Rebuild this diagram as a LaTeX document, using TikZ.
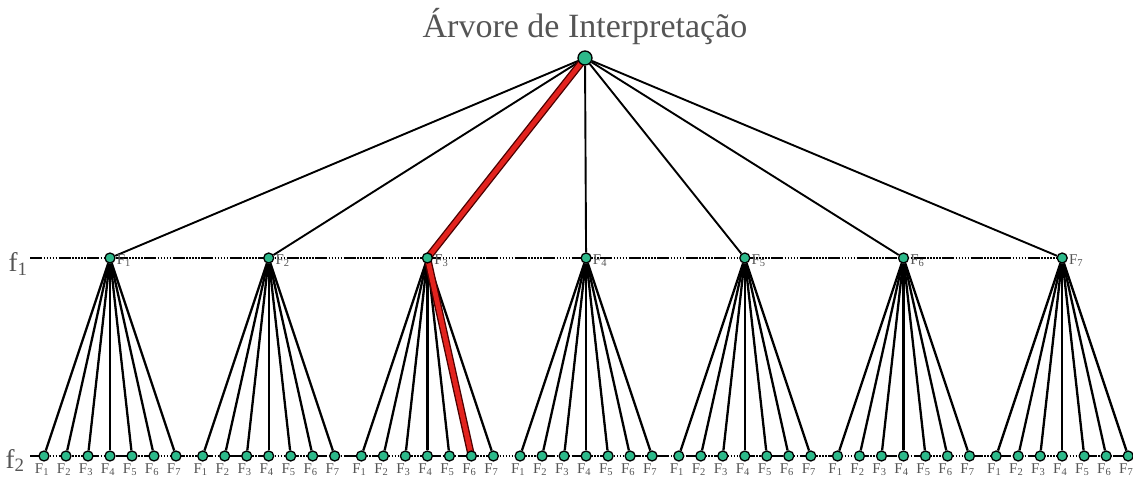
\documentclass[tikz,border=0pt]{standalone}
\usepackage{fontspec}
\setmainfont{Liberation Serif}
\usepackage{xcolor}
\usetikzlibrary{positioning,backgrounds}
\definecolor{nodec}{HTML}{2DB98A}
\definecolor{labc}{HTML}{555555}
\definecolor{pathc}{HTML}{E3231E}
\newcommand{\Fl}[1]{F\textsubscript{#1}}

\begin{document}
\begin{tikzpicture}[x=1pt, y=-1pt,
    dot/.style={circle, draw=black, fill=nodec, line width=1.3pt, inner sep=0pt, minimum size=10pt},
    edge/.style={black, line width=1.9pt},
    levelline/.style={black, line width=1.8pt, dash pattern=on 12pt off 1.5pt on 1.5pt off 1.5pt on 1.5pt off 1.5pt on 1.5pt off 1.5pt on 1.5pt off 1.5pt on 1.5pt off 1.5pt},
    lab/.style={text=labc, inner sep=0pt, font=\fontsize{15}{15}\selectfont},
    hot/.style={line width=7.5pt, black!70!red}, hotin/.style={line width=4.8pt, pathc}]
  \useasboundingbox (0,0) rectangle (1133,478);
  \node[text=labc, font=\fontsize{34}{34}\selectfont, anchor=base] (title) at (585,38) {Árvore de Interpretação};
  \node[dot, minimum size=14pt] (root) at (585,58) {};
  % nivel 1 e folhas
  \foreach \i in {1,...,7}{
    \node[dot] (p\i) at ({110+(\i-1)*158.7},258) {};
    \node[lab, anchor=west] (pl\i) at ([xshift=1pt,yshift=-3pt]p\i.east) {\Fl{\i}};
    \foreach \j in {1,...,7}{
      \node[dot] (l\i-\j) at ({110+(\i-1)*158.7+(\j-4)*22},456) {};
      \node[lab, below=2pt of l\i-\j, xshift=-2pt] (ll\i-\j) {\Fl{\j}};
    }
  }
  \node[text=labc, font=\fontsize{27}{27}\selectfont, anchor=base] (f1) at (18,272) {f\textsubscript{1}};
  \node[text=labc, font=\fontsize{27}{27}\selectfont, anchor=base] (f2) at (15,468) {f\textsubscript{2}};
  \coordinate (f1end) at (30,258);
  \coordinate (f2end) at (30,456);
  \coordinate (f2far) at (1133,456);
  \begin{scope}[on background layer]
    \draw[levelline] (f1end) -- (p7);
    \draw[levelline] (f2end) -- (f2far);
    \foreach \i in {1,...,7}{
      \draw[edge] (root) -- (p\i);
      \foreach \j in {1,...,7}{\draw[edge, line width=2.3pt] (p\i) -- (l\i-\j);}
    }
    % caminho marcado
    \draw[hot] (root.center) -- (p3.center) -- (l3-6.center);
    \draw[hotin] (root.center) -- (p3.center) -- (l3-6.center);
  \end{scope}
\end{tikzpicture}
\end{document}
